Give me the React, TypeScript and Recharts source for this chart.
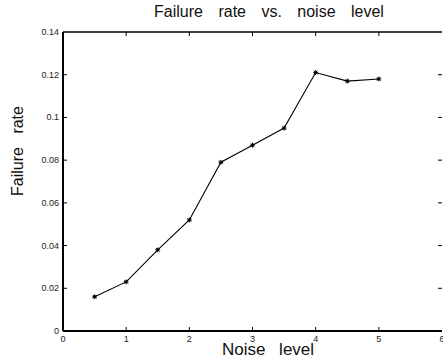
import React from 'react';
import { LineChart, Line, XAxis, YAxis } from 'recharts';

const noiseLevels = [0.5, 1, 1.5, 2, 2.5, 3, 3.5, 4, 4.5, 5];
const failureRates = [0.016, 0.023, 0.038, 0.052, 0.079, 0.087, 0.095, 0.121, 0.117, 0.118];
const xTicks = [0, 1, 2, 3, 4, 5, 6];
const yTicks = [0, 0.02, 0.04, 0.06, 0.08, 0.1, 0.12, 0.14];

const data = noiseLevels.map((n, i) => ({ noise: n, rate: failureRates[i] }));

const FONT = 'Arial, "Liberation Sans", Helvetica, sans-serif';

// bottom axis: inward tick + number below
function BottomTick(props: any) {
  const { x, y, payload } = props;
  return (
    <g>
      {payload.value !== 0 && payload.value !== 6 && (
        <line x1={x} y1={y} x2={x} y2={y - 4} stroke="#000" strokeWidth={1} />
      )}
      <text x={x} y={y + 11} textAnchor="middle" fontSize={9} fill="#222" fontFamily={FONT}>
        {payload.value}
      </text>
    </g>
  );
}

function TopTick(props: any) {
  const { x, y, payload } = props;
  if (payload.value === 0 || payload.value === 6) return <g />;
  return <line x1={x} y1={y} x2={x} y2={y + 4} stroke="#000" strokeWidth={1} />;
}

function LeftTick(props: any) {
  const { x, y, payload } = props;
  return (
    <g>
      {payload.value !== 0 && payload.value !== 0.14 && (
        <line x1={x} y1={y} x2={x + 4} y2={y} stroke="#000" strokeWidth={1} />
      )}
      <text x={x - 4} y={y + 3} textAnchor="end" fontSize={9} fill="#222" fontFamily={FONT}>
        {payload.value}
      </text>
    </g>
  );
}

function RightTick(props: any) {
  const { x, y, payload } = props;
  if (payload.value === 0 || payload.value === 0.14) return <g />;
  return <line x1={x} y1={y} x2={x - 4} y2={y} stroke="#000" strokeWidth={1} />;
}

// small asterisk marker
function StarDot(props: any) {
  const { cx, cy, index } = props;
  if (cx == null || cy == null) return <g key={index} />;
  const r = 2.4;
  return (
    <g key={index} stroke="#000" strokeWidth={1}>
      <line x1={cx - r} y1={cy} x2={cx + r} y2={cy} />
      <line x1={cx} y1={cy - r} x2={cx} y2={cy + r} />
      <line x1={cx - r * 0.75} y1={cy - r * 0.75} x2={cx + r * 0.75} y2={cy + r * 0.75} />
      <line x1={cx - r * 0.75} y1={cy + r * 0.75} x2={cx + r * 0.75} y2={cy - r * 0.75} />
      <circle cx={cx} cy={cy} r={1.3} fill="#000" stroke="none" />
    </g>
  );
}

export default function App() {
  return (
    <div style={{ position: 'absolute', left: 0, top: 0, width: 443, height: 363, background: '#fff', overflow: 'hidden' }}>
      {/* plot box: left 63, right 442, top 32, bottom 331 */}
      <LineChart
        width={443}
        height={363}
        data={data}
        margin={{ top: 22, right: 0, bottom: 12, left: 23 }}
      >
        <XAxis
          dataKey="noise"
          type="number"
          domain={[0, 6]}
          ticks={xTicks}
          allowDataOverflow
          height={20}
          tickSize={0}
          tickMargin={0}
          tickLine={false}
          axisLine={{ stroke: '#000', strokeWidth: 2 }}
          tick={<BottomTick />}
          interval={0}
        />
        <XAxis
          xAxisId="top"
          orientation="top"
          dataKey="noise"
          type="number"
          domain={[0, 6]}
          ticks={xTicks}
          allowDataOverflow
          height={10}
          tickSize={0}
          tickMargin={0}
          tickLine={false}
          axisLine={{ stroke: '#000', strokeWidth: 1.5 }}
          tick={<TopTick />}
          interval={0}
        />
        <YAxis
          type="number"
          domain={[0, 0.14]}
          ticks={yTicks}
          allowDataOverflow
          width={40}
          tickSize={0}
          tickMargin={0}
          tickLine={false}
          axisLine={{ stroke: '#000', strokeWidth: 2 }}
          tick={<LeftTick />}
          interval={0}
        />
        <YAxis
          yAxisId="right"
          orientation="right"
          type="number"
          domain={[0, 0.14]}
          ticks={yTicks}
          allowDataOverflow
          width={1}
          tickSize={0}
          tickMargin={0}
          tickLine={false}
          axisLine={false}
          tick={<RightTick />}
          interval={0}
        />
        <Line
          dataKey="rate"
          stroke="#000"
          strokeWidth={1.1}
          dot={<StarDot />}
          activeDot={false}
          isAnimationActive={false}
        />
      </LineChart>
      <div
        style={{
          position: 'absolute',
          left: 0,
          width: 538,
          top: 3,
          textAlign: 'center',
          fontFamily: FONT,
          fontSize: 16,
          wordSpacing: 11,
          color: '#111',
          whiteSpace: 'nowrap',
        }}
      >
        Failure rate vs. noise level
      </div>
      <div
        style={{
          position: 'absolute',
          left: 0,
          width: 536,
          top: 340,
          textAlign: 'center',
          fontFamily: FONT,
          fontSize: 17,
          wordSpacing: 9,
          color: '#111',
          whiteSpace: 'nowrap',
        }}
      >
        Noise level
      </div>
      <div
        style={{
          position: 'absolute',
          left: 18,
          top: 151,
          transform: 'translate(-50%, -50%) rotate(-90deg)',
          fontFamily: FONT,
          fontSize: 16,
          wordSpacing: 9,
          color: '#111',
          whiteSpace: 'nowrap',
        }}
      >
        Failure rate
      </div>
    </div>
  );
}
